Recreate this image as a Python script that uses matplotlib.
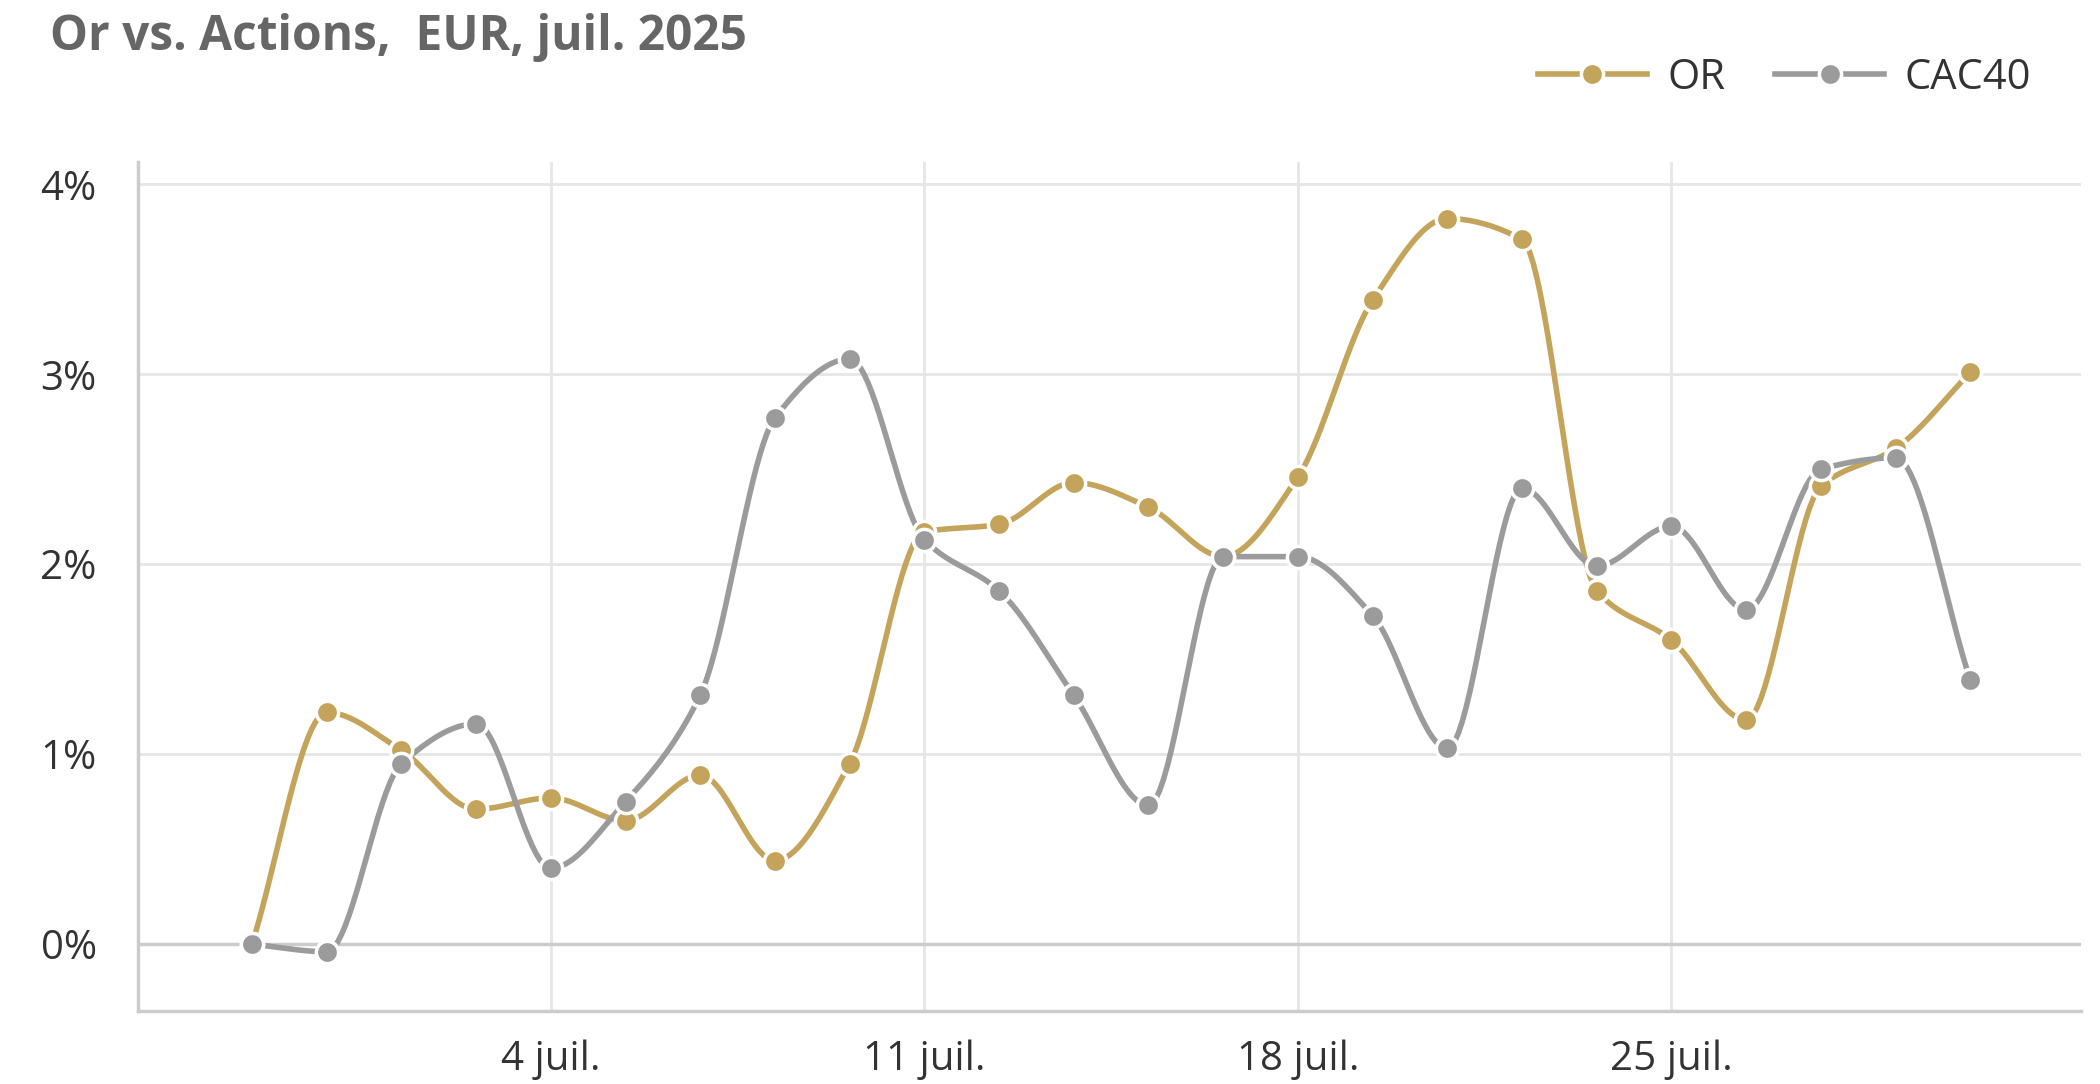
import numpy as np
import matplotlib
matplotlib.use("Agg")
import matplotlib.pyplot as plt

plt.rcParams['font.family'] = ['Open Sans', 'DejaVu Sans']

# daily values (% change since start of month)
or_vals = [0.00, 1.22, 1.02, 0.71, 0.77, 0.65, 0.89, 0.44, 0.95, 2.17, 2.21, 2.43,
           2.30, 2.04, 2.46, 3.39, 3.82, 3.71, 1.86, 1.60, 1.18, 2.41, 2.61, 3.01]
cac_vals = [0.00, -0.04, 0.95, 1.16, 0.40, 0.75, 1.31, 2.77, 3.08, 2.13, 1.86, 1.31,
            0.73, 2.04, 2.04, 1.73, 1.03, 2.40, 1.99, 2.20, 1.76, 2.50, 2.56, 1.39]
tick_idx = [4, 9, 14, 19]
tick_labels = ['4 juil.', '11 juil.', '18 juil.', '25 juil.']


def monotone(x, y, n=20):
    # Fritsch-Carlson monotone cubic interpolation
    x = np.asarray(x, float); y = np.asarray(y, float)
    h = np.diff(x); d = np.diff(y) / h
    m = np.zeros_like(y)
    m[0], m[-1] = d[0], d[-1]
    for i in range(1, len(y) - 1):
        if d[i - 1] * d[i] <= 0:
            m[i] = 0
        else:
            m[i] = 2 / (1 / d[i - 1] + 1 / d[i])
    xs, ys = [], []
    for i in range(len(h)):
        t = np.linspace(0, 1, n, endpoint=False)
        h00 = 2*t**3 - 3*t**2 + 1; h10 = t**3 - 2*t**2 + t
        h01 = -2*t**3 + 3*t**2; h11 = t**3 - t**2
        xs.append(x[i] + t*h[i])
        ys.append(h00*y[i] + h10*h[i]*m[i] + h01*y[i+1] + h11*h[i]*m[i+1])
    xs.append([x[-1]]); ys.append([y[-1]])
    return np.concatenate(xs), np.concatenate(ys)


fig = plt.figure(figsize=(21, 10.84), dpi=100)
ax = fig.add_axes([0.0659, 0.067, 0.925, 0.784])
idx = np.arange(len(or_vals))

gold = '#C4A35A'
grey = '#9B9B9B'
for vals, col, lab in [(or_vals, gold, 'OR'), (cac_vals, grey, 'CAC40')]:
    sx, sy = monotone(idx, vals)
    ax.plot(sx, sy, color=col, lw=4, zorder=3)
    ax.plot(idx, vals, 'o', color=col, ms=16, mec='white', mew=2.5, zorder=4)
    ax.plot([], [], '-o', color=col, lw=4, ms=16, mec='white', mew=2.5, label=lab)

ax.set_xlim(-1.52, 24.48)
ax.set_ylim(-0.354, 4.12)
ax.set_yticks([0, 1, 2, 3, 4])
ax.set_yticklabels(['0%', '1%', '2%', '3%', '4%'])
ax.set_xticks(tick_idx)
ax.set_xticklabels(tick_labels)
ax.grid(True, color='#E6E6E6', lw=2)
ax.axhline(0, color='#CCCCCC', lw=2.5, zorder=2)
ax.set_axisbelow(True)
for s in ['top', 'right']:
    ax.spines[s].set_visible(False)
for s in ['left', 'bottom']:
    ax.spines[s].set_color('#CCCCCC')
    ax.spines[s].set_linewidth(2.5)
ax.tick_params(axis='y', length=0, labelsize=29, labelcolor='#333333', pad=30)
ax.tick_params(axis='x', length=0, labelsize=29, labelcolor='#333333', pad=20)

fig.text(0.024, 0.965, 'Or vs. Actions,  EUR, juil. 2025', fontsize=34.5, fontweight='bold',
         color='#666666', va='center')
fig.legend(loc='center right', bbox_to_anchor=(0.985, 0.928), ncol=2, frameon=False,
           fontsize=30, handlelength=2.6, columnspacing=1.2, handletextpad=0.5,
           labelcolor='#333333')

fig.savefig('out.png')
